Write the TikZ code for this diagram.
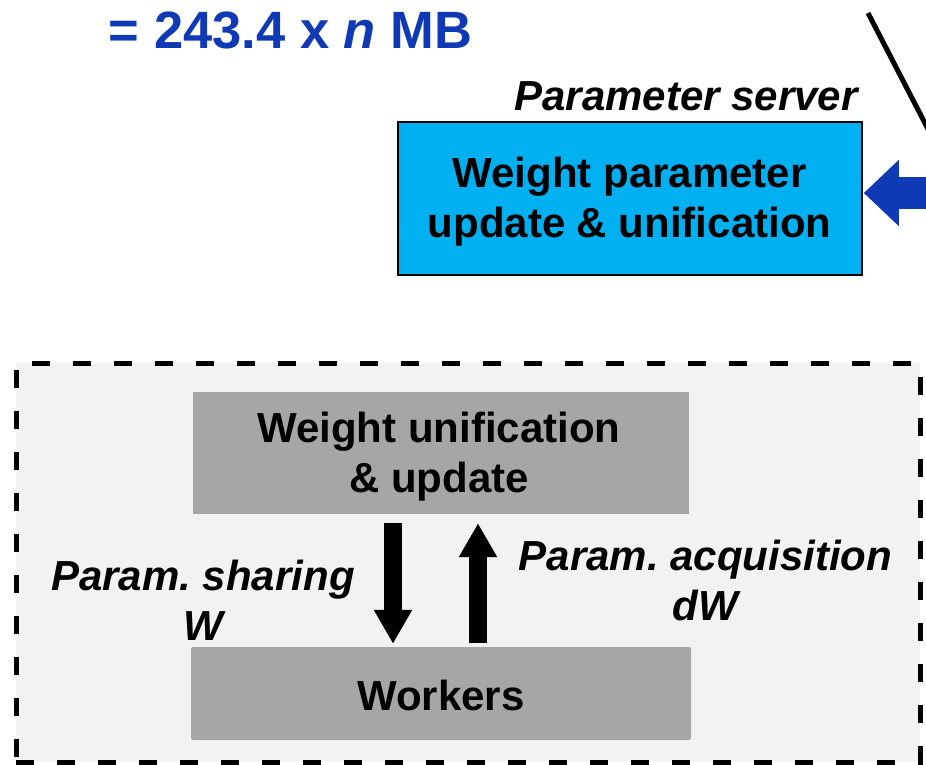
\documentclass[tikz,border=0pt]{standalone}
\usepackage{fontspec}
\setmainfont{Liberation Sans}
\usetikzlibrary{arrows.meta}
\frenchspacing

\definecolor{ink}{HTML}{1039B6}
\definecolor{psfill}{HTML}{00B0F0}
\definecolor{unitgray}{HTML}{A6A6A6}
\definecolor{panel}{HTML}{F2F2F2}

\begin{document}
\begin{tikzpicture}[x=1pt,y=-1pt,
  lbl/.style={font=\fontsize{42}{50}\selectfont\bfseries, align=center, inner sep=0pt},
  ilbl/.style={font=\fontsize{42}{50}\selectfont\bfseries\itshape, align=center, inner sep=0pt},
  psbox/.style={draw=black, line width=1.5pt, fill=psfill, inner sep=0pt,
                minimum width=464pt, minimum height=153pt},
  unitbox/.style={fill=unitgray, inner sep=0pt},
  poolbox/.style={draw=black, line width=5pt, dash pattern=on 18pt off 23pt,
                  fill=panel, inner sep=0pt, minimum width=904pt, minimum height=399pt},
  flow/.style={line width=18.5pt, -{Triangle[width=36pt,length=34pt]}},
  feedarrow/.style={line width=32pt, draw=ink, -{Triangle[width=64pt,length=35pt]}}
]
\path[use as bounding box] (0,0) rectangle (926,764);
\clip (0,0) rectangle (926,764);

% memory footprint
\node[font=\fontsize{52.5}{60}\selectfont\bfseries, text=ink, anchor=base, inner sep=0pt]
  (size) at (290.5,48) {= 243.4 x \textit{n} MB};

% parameter server
\node[ilbl, anchor=base east] (pslabel) at (858,110) {Parameter server};
\node[psbox] (ps) at (630,198.5) {};
\node[lbl] (pstext) at (629.5,202) {Weight parameter\\update \& unification};

% incoming link from the right
\coordinate (ln1) at (868,13);
\coordinate (ln2) at (929,131);
\draw[line width=5pt] (ln1) -- (ln2);
\coordinate (feed) at (945,193);
\draw[feedarrow] (feed) -- ([xshift=1pt,yshift=5.5pt]ps.east);

% worker pool
\node[poolbox] (pool) at (468,562.5) {};
\node[unitbox, minimum width=496pt, minimum height=122pt] (wu) at (441,453) {};
\node[lbl] (wutext) at (439,457) {Weight unification\\\& update};
\node[unitbox, rounded corners=2pt, minimum width=500pt, minimum height=93pt] (wk) at (441,693.5) {};
\node[lbl, anchor=base] (wktext) at (441,710) {Workers};

% parameter exchange
\draw[flow] ([xshift=-48pt,yshift=-9pt]wu.south) -- ([xshift=-48pt,yshift=3pt]wk.north);
\draw[flow] ([xshift=37pt,yshift=4pt]wk.north) -- ([xshift=37pt,yshift=-9pt]wu.south);
\node[ilbl] (share) at (203,600) {Param. sharing\\W};
\node[ilbl] (acq) at (705.5,580) {Param. acquisition\\dW};
\end{tikzpicture}
\end{document}
